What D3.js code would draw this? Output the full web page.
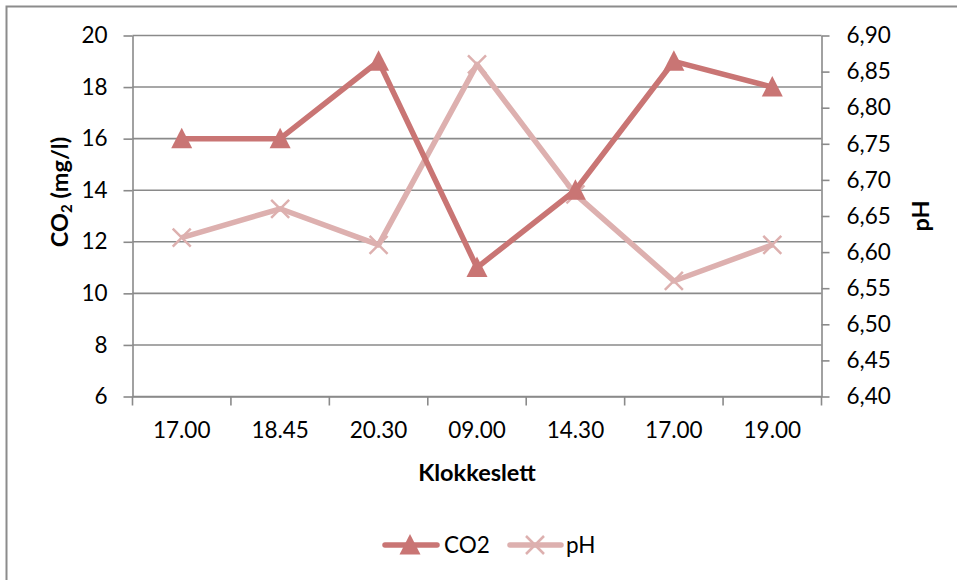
<!DOCTYPE html>
<html>
<head>
<meta charset="utf-8">
<script src="https://cdn.jsdelivr.net/npm/d3@7"></script>
<style>
  html, body { margin: 0; padding: 0; background: #fff; }
  svg { display: block; font-family: Lato, "Open Sans", sans-serif; }
</style>
</head>
<body>
<svg id="chart" width="957" height="580"></svg>
<script>
// Sampling times along the x axis
const times = ["17.00", "18.45", "20.30", "09.00", "14.30", "17.00", "19.00"];
// CO2 concentration (mg/l), left axis
const co2 = [16, 16, 19, 11, 14, 19, 18];
// pH, right axis
const ph = [6.62, 6.66, 6.61, 6.86, 6.68, 6.56, 6.61];
// Tick values for both vertical axes
const co2Ticks = [6, 8, 10, 12, 14, 16, 18, 20];
const phTicks = [6.40, 6.45, 6.50, 6.55, 6.60, 6.65, 6.70, 6.75, 6.80, 6.85, 6.90];

const CO2_COLOR = "#C97574";
const PH_COLOR = "#DDB0AF";
const GRID = "#8a8a8a";

const svg = d3.select("#chart");

// Outer frame
svg.append("rect")
  .attr("x", 6.5).attr("y", 6.5)
  .attr("width", 980).attr("height", 600)
  .attr("fill", "none").attr("stroke", "#8c8c8c").attr("stroke-width", 2);

const plotL = 132.5, plotR = 821.5, plotT = 35.5, plotB = 396.5;

const x = d3.scaleBand().domain(d3.range(times.length)).range([plotL, plotR]);
const yL = d3.scaleLinear().domain([6, 20]).range([plotB, plotT]);
const yR = d3.scaleLinear().domain([6.40, 6.90]).range([plotB, plotT]);

// Horizontal gridlines
svg.append("g")
  .selectAll("line")
  .data(co2Ticks)
  .join("line")
  .attr("x1", plotL).attr("x2", plotR)
  .attr("y1", d => yL(d)).attr("y2", d => yL(d))
  .attr("stroke", GRID).attr("stroke-width", 1.6);

// Left axis
const axL = svg.append("g")
  .attr("transform", `translate(${plotL},0)`)
  .call(d3.axisLeft(yL).tickValues(co2Ticks).tickSize(9).tickPadding(16).tickSizeOuter(0));

// Right axis
const axR = svg.append("g")
  .attr("transform", `translate(${plotR},0)`)
  .call(d3.axisRight(yR).tickValues(phTicks).tickSize(8).tickPadding(17).tickSizeOuter(0)
    .tickFormat(d => d3.format(".2f")(d).replace(".", ",")));

// Bottom axis: ticks sit between categories
const axB = svg.append("g")
  .attr("transform", `translate(0,${plotB})`)
  .call(d3.axisBottom(x).tickFormat(i => times[i]).tickSize(0).tickPadding(26).tickSizeOuter(0));

const bounds = d3.range(times.length + 1).map(i => plotL + i * x.step());
svg.append("g")
  .selectAll("line")
  .data(bounds)
  .join("line")
  .attr("x1", d => d).attr("x2", d => d)
  .attr("y1", plotB).attr("y2", plotB + 9)
  .attr("stroke", GRID).attr("stroke-width", 1.6);

[axL, axR, axB].forEach(g => {
  g.select(".domain").attr("stroke", GRID).attr("stroke-width", 1.6);
  g.selectAll(".tick line").attr("stroke", GRID).attr("stroke-width", 1.6);
  g.selectAll(".tick text").attr("fill", "#000").style("font-size", "22.5px")
    .style("font-family", "Lato, 'Open Sans', sans-serif");
});
axB.select(".domain").attr("d", `M${plotL},0.5H${plotR}`);

const cx = i => x(i) + x.bandwidth() / 2;

// pH series
svg.append("path")
  .datum(ph)
  .attr("fill", "none").attr("stroke", PH_COLOR).attr("stroke-width", 5.5)
  .attr("stroke-linejoin", "round")
  .attr("d", d3.line().x((d, i) => cx(i)).y(d => yR(d)));

const xMark = s => `M${-s},${-s}L${s},${s}M${-s},${s}L${s},${-s}`;
svg.append("g")
  .selectAll("path")
  .data(ph)
  .join("path")
  .attr("transform", (d, i) => `translate(${cx(i)},${yR(d)})`)
  .attr("d", xMark(9))
  .attr("stroke", PH_COLOR).attr("stroke-width", 2.5).attr("fill", "none");

// CO2 series
svg.append("path")
  .datum(co2)
  .attr("fill", "none").attr("stroke", CO2_COLOR).attr("stroke-width", 5.5)
  .attr("stroke-linejoin", "round")
  .attr("d", d3.line().x((d, i) => cx(i)).y(d => yL(d)));

const tri = "M0,-11L10.5,9.5L-10.5,9.5Z";
svg.append("g")
  .selectAll("path")
  .data(co2)
  .join("path")
  .attr("transform", (d, i) => `translate(${cx(i)},${yL(d)})`)
  .attr("d", tri)
  .attr("fill", CO2_COLOR);

// Axis titles
const t1 = svg.append("text")
  .attr("transform", "translate(68,192) rotate(-90)")
  .attr("text-anchor", "middle")
  .style("font-size", "23.5px").style("font-weight", "bold");
t1.append("tspan").text("CO");
t1.append("tspan").text("2").style("font-size", "15px").attr("dy", 4);
t1.append("tspan").text(" (mg/l)").attr("dy", -4);

svg.append("text")
  .attr("transform", "translate(929,216) rotate(-90)")
  .attr("text-anchor", "middle")
  .style("font-size", "23.5px").style("font-weight", "bold")
  .text("pH");

svg.append("text")
  .attr("x", 477).attr("y", 481)
  .attr("text-anchor", "middle")
  .style("font-size", "23.5px").style("font-weight", "bold")
  .text("Klokkeslett");

// Legend
const legend = svg.append("g").attr("transform", "translate(0,545)");
legend.append("line").attr("x1", 385).attr("x2", 437).attr("y1", 0).attr("y2", 0)
  .attr("stroke", CO2_COLOR).attr("stroke-width", 5.5).attr("stroke-linecap", "round");
legend.append("path").attr("transform", "translate(410,0)").attr("d", tri).attr("fill", CO2_COLOR);
legend.append("text").attr("x", 444).attr("y", 8).style("font-size", "22.5px").text("CO2");
legend.append("line").attr("x1", 510).attr("x2", 561).attr("y1", 0).attr("y2", 0)
  .attr("stroke", PH_COLOR).attr("stroke-width", 5.5).attr("stroke-linecap", "round");
legend.append("path").attr("transform", "translate(535,0)").attr("d", xMark(9))
  .attr("stroke", PH_COLOR).attr("stroke-width", 2.5).attr("fill", "none");
legend.append("text").attr("x", 566).attr("y", 8).style("font-size", "22.5px").text("pH");
</script>
</body>
</html>
